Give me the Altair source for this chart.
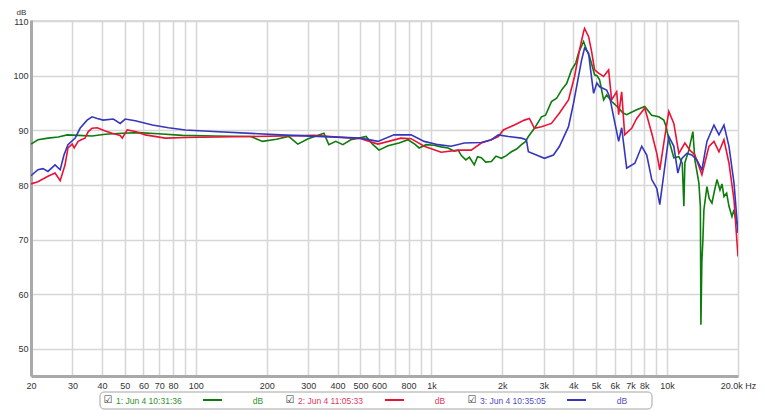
import altair as alt
import pandas as pd

# ---------------- data ----------------
freq_green = [20, 21.4, 23.6, 26.1, 28.5, 31.7, 36.3, 41.3, 48.8, 57.1,
              69.4, 87.8, 120, 171, 192, 220, 248, 271, 300, 350,
              367, 393, 421, 455, 478, 528, 560, 599, 655, 729,
              796, 850, 887, 950, 1027, 1100, 1178, 1250, 1300, 1340,
              1400, 1450, 1520, 1570, 1628, 1700, 1796, 1880, 1980, 2080,
              2185, 2300, 2410, 2500, 2580, 2737, 2931, 3050, 3232, 3400,
              3565, 3750, 3932, 4100, 4211, 4424, 4556, 4692, 4800, 4926,
              5050, 5173, 5380, 5542, 5818, 6000, 6232, 6500, 6740, 7100,
              7434, 8042, 8600, 9222, 9686, 9900, 10172, 10684, 11222, 11600,
              11784, 11902, 12374, 12870, 13124, 13646, 13850, 13920, 14050, 14196,
              14336, 14764, 15100, 15506, 15900, 16284, 16770, 17100, 17438, 17900,
              18314, 18858, 19232, 19600, 20000]
db_green = [87.5, 88.3, 88.6, 88.8, 89.2, 89.1, 89.0, 89.3, 89.5, 89.6,
            89.4, 89.1, 89.0, 88.9, 88.0, 88.4, 88.9, 87.5, 88.5, 89.5,
            87.4, 88.0, 87.4, 88.3, 88.5, 88.9, 87.6, 86.4, 87.2, 87.7,
            88.3, 87.5, 86.8, 87.4, 87.3, 87.0, 86.8, 86.2, 86.4, 85.4,
            84.6, 85.1, 83.7, 85.2, 85.0, 84.2, 84.3, 85.3, 84.9, 85.4,
            86.1, 86.6, 87.4, 87.9, 88.9, 90.4, 92.5, 92.8, 95.3, 95.9,
            97.4, 98.6, 101.1, 102.4, 104.2, 106.3, 104.8, 103.5, 102.0, 100.2,
            100.0, 99.3, 95.6, 96.5, 95.3, 94.8, 94.1, 93.2, 92.9, 93.4,
            93.8, 94.4, 92.8, 92.5, 91.9, 90.8, 88.3, 85.0, 85.2, 84.0,
            76.1, 84.1, 86.4, 89.8, 84.6, 80.4, 76.0, 54.4, 66.0, 70.0,
            75.5, 79.7, 77.5, 76.7, 79.0, 81.0, 79.1, 80.2, 77.9, 78.5,
            76.1, 74.2, 75.5, 73.5, 72.5]

freq_red = [20, 21.4, 23.6, 25.3, 26.6, 27.9, 28.7, 29.9, 30.5, 31.7,
            33.0, 33.9, 35.0, 36.3, 38.2, 41.3, 44.2, 47.8, 48.8, 51.2,
            55.4, 61.1, 74.3, 90.4, 171, 317, 502, 593, 743, 820,
            932, 1100, 1300, 1476, 1628, 1796, 1923, 2020, 2249, 2482,
            2606, 2737, 2931, 3232, 3496, 3818, 4050, 4253, 4424, 4467,
            4646, 4783, 4926, 5123, 5380, 5650, 5818, 6112, 6232, 6418,
            6610, 7078, 7434, 8042, 8610, 9044, 9314, 9686, 10172, 10684,
            11222, 11902, 12496, 13124, 14058, 15056, 15814, 16606, 17438, 18314,
            19232, 20000]
db_red = [80.2, 80.6, 81.6, 82.2, 80.8, 83.7, 86.8, 87.5, 86.8, 88.0,
          88.4, 88.6, 89.8, 90.4, 90.5, 89.9, 89.5, 89.1, 88.6, 90.1,
          89.8, 89.2, 88.6, 88.7, 88.9, 89.1, 88.5, 87.5, 88.6, 88.5,
          87.1, 86.0, 86.4, 86.4, 87.7, 88.3, 88.9, 90.1, 91.0, 91.9,
          92.2, 90.4, 90.7, 91.3, 93.2, 95.6, 99.9, 104.8, 108.1, 108.7,
          107.2, 104.5, 101.1, 100.5, 99.9, 101.1, 95.6, 97.1, 92.9, 97.1,
          89.2, 90.4, 92.2, 94.1, 89.5, 85.8, 82.8, 87.7, 93.5, 91.3,
          85.8, 87.7, 86.4, 85.5, 81.9, 87.1, 88.0, 86.1, 88.3, 84.0,
          77.3, 66.9]

freq_blue = [20, 21.4, 22.5, 23.6, 25.3, 26.6, 27.6, 28.7, 30.8, 32.3,
             34.6, 36.3, 38.2, 40.5, 44.7, 47.8, 50.2, 55.4, 65.5, 76.6,
             90.4, 119, 229, 502, 593, 694, 820, 932, 1068, 1213,
             1378, 1628, 1796, 1923, 2122, 2410, 2530, 2580, 2790, 3018,
             3296, 3496, 3818, 4010, 4211, 4338, 4467, 4646, 4737, 4878,
             5035, 5173, 5542, 5705, 5933, 6232, 6418, 6740, 7300, 7808,
             8200, 8610, 9044, 9314, 9782, 10172, 10684, 11112, 11556, 12134,
             12744, 13384, 14058, 14764, 15814, 16606, 17438, 18314, 19232, 20000]
db_blue = [81.7, 82.8, 83.0, 82.5, 83.7, 82.8, 85.5, 87.4, 88.6, 90.4,
           91.9, 92.5, 92.2, 91.9, 92.1, 91.3, 92.1, 91.8, 91.0, 90.5,
           90.1, 89.8, 89.2, 88.6, 88.0, 89.2, 89.2, 88.0, 87.4, 87.1,
           87.7, 87.8, 88.3, 89.2, 88.9, 88.6, 88.3, 86.1, 85.5, 84.9,
           85.5, 87.1, 90.7, 95.0, 99.9, 102.9, 105.1, 104.2, 101.1, 96.8,
           98.7, 98.0, 97.4, 96.2, 92.5, 88.0, 90.5, 83.1, 84.0, 87.1,
           85.5, 81.0, 79.4, 76.4, 83.4, 88.9, 87.1, 82.2, 84.9, 85.8,
           85.5, 84.6, 82.8, 88.0, 91.0, 89.2, 91.0, 87.1, 80.4, 71.2]

series_names = ["1: Jun 4 10:31:36", "2: Jun 4 11:05:33", "3: Jun 4 10:35:05"]
series_colors = ["#0c7c0c", "#ea1236", "#3636bc"]
label_colors = ["#2f8f2f", "#e4365e", "#4e4ec0"]

x_ticks = [20, 30, 40, 50, 60, 70, 80, 90,
           100, 200, 300, 400, 500, 600, 700, 800, 900,
           1000, 2000, 3000, 4000, 5000, 6000, 7000, 8000, 9000,
           10000, 20000]
x_hidden = [90, 700, 900, 9000]
y_ticks = [50, 60, 70, 80, 90, 100, 110]

# ---------------- tables ----------------
rows = []
for name, fs, ds in zip(series_names,
                        [freq_green, freq_red, freq_blue],
                        [db_green, db_red, db_blue]):
    for f, d in zip(fs, ds):
        rows.append({"series": name, "freq": f, "db": d})
df = pd.DataFrame(rows)

legend_df = pd.DataFrame({
    "series": series_names,
    "color": series_colors,
    "lcolor": label_colors,
    "idx": [0, 1, 2],
    "unit": ["dB", "dB", "dB"],
})
box_df = pd.DataFrame({"k": [0]})

FONT = "Liberation Sans"
GRID = "#d6d6d6"
FRAME = "#a9a9a9"

hidden_expr = "[" + ",".join(str(v) for v in x_hidden) + "]"
label_expr = (
    f"indexof({hidden_expr}, datum.value) >= 0 ? '' : "
    "datum.value >= 20000 ? '20.0k Hz' : "
    "datum.value >= 1000 ? (datum.value / 1000) + 'k' : datum.value + ''"
)

x_enc = alt.X(
    "freq:Q",
    scale=alt.Scale(type="log", domain=[20, 20000], nice=False),
    axis=alt.Axis(
        values=x_ticks, labelExpr=label_expr, title=None, ticks=False,
        labelOverlap=False, labelFlush=False, grid=True, gridColor=GRID,
        gridWidth=1.5, domainColor=FRAME, domainWidth=3, labelPadding=5,
        labelFontSize=9, labelColor="#333333", labelFont=FONT,
    ),
)
y_enc = alt.Y(
    "db:Q",
    scale=alt.Scale(domain=[45, 110.25], nice=False, zero=False),
    axis=alt.Axis(
        values=y_ticks, title="dB", titleAngle=0, titleX=-10, titleY=-7.5,
        titleAlign="center", titleBaseline="middle", titleFontSize=8,
        titleFontWeight="normal", titleColor="#333333", titleFont=FONT,
        ticks=False, grid=True, gridColor=GRID, gridWidth=1.5,
        domainColor=FRAME, domainWidth=3, labelPadding=3, labelFontSize=9,
        labelColor="#333333", labelFont=FONT,
    ),
)

lines = alt.Chart(df).mark_line(strokeWidth=1.6, clip=True).encode(
    x=x_enc,
    y=y_enc,
    color=alt.Color("series:N",
                    scale=alt.Scale(domain=series_names, range=series_colors),
                    legend=None),
    order=alt.Order("freq:Q"),
)

# ---------------- custom legend below the plot ----------------
box = alt.Chart(box_df).mark_rect(
    fill="white", stroke="#a4a4a4", strokeWidth=1, cornerRadius=4
).encode(
    x=alt.value(69), x2=alt.value(621), y=alt.value(372), y2=alt.value(389)
)

legend_base = alt.Chart(legend_df).transform_calculate(
    cb="77 + 182 * datum.idx",
    tx="85 + 182 * datum.idx",
    l1="172 + 182 * datum.idx",
    l2="191 + 182 * datum.idx",
    ux="227 + 182 * datum.idx",
)

checks = legend_base.mark_text(
    text="\u2611", font="DejaVu Sans", fontSize=10, color="#333333",
    baseline="middle", align="center"
).encode(x=alt.X("cb:Q", scale=None), y=alt.value(380))

names = legend_base.mark_text(
    font=FONT, fontSize=8.5, baseline="middle", align="left"
).encode(
    x=alt.X("tx:Q", scale=None), y=alt.value(380.5),
    text="series:N", color=alt.Color("lcolor:N", scale=None),
)

swatches = legend_base.mark_rule(strokeWidth=2).encode(
    x=alt.X("l1:Q", scale=None), x2="l2:Q", y=alt.value(380),
    color=alt.Color("color:N", scale=None),
)

units = legend_base.mark_text(
    font=FONT, fontSize=8.5, baseline="middle", align="center"
).encode(
    x=alt.X("ux:Q", scale=None), y=alt.value(380.5),
    text="unit:N", color=alt.Color("lcolor:N", scale=None),
)

chart = alt.layer(lines, box, checks, names, swatches, units).properties(
    width=707,
    height=356,
    autosize=alt.AutoSizeParams(type="none"),
    padding={"left": 23, "top": 12, "right": 19, "bottom": 36},
    background="white",
).configure_view(
    stroke="#c8c8c8", strokeWidth=2
).configure(font=FONT)

chart.save("out.html", embed_options={"renderer": "svg", "actions": False})
